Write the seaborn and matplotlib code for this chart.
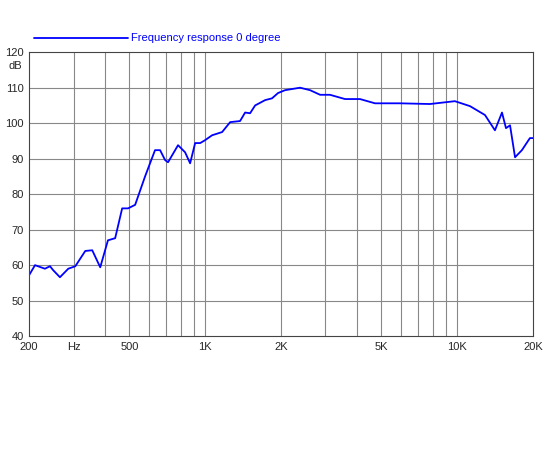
import matplotlib
matplotlib.use("Agg")
import matplotlib.pyplot as plt
import seaborn as sns
import pandas as pd

freq = [200, 211, 231, 242, 249, 265, 286, 305, 334, 356, 383, 411, 439, 468, 494, 527,
        577, 632, 662, 693, 712, 780, 832, 871, 912, 955, 998, 1065, 1167, 1256, 1375,
        1440, 1507, 1578, 1729, 1841, 1946, 2075, 2379, 2608, 2858, 3128, 3588, 4115,
        4721, 5930, 7800, 9800, 11250, 12900, 14130, 15070, 15630, 16220, 16980, 18080,
        19450, 20000]
db = [57.2, 60.0, 59.0, 59.7, 58.6, 56.6, 59.0, 59.7, 64.0, 64.2, 59.4, 67.0, 67.6, 76.0,
      76.0, 77.0, 85.0, 92.4, 92.4, 89.6, 89.0, 93.8, 91.8, 88.7, 94.4, 94.4, 95.2, 96.6,
      97.5, 100.3, 100.6, 103.0, 102.8, 105.0, 106.5, 107.0, 108.5, 109.3, 110.0, 109.3,
      108.0, 108.0, 106.8, 106.8, 105.6, 105.6, 105.4, 106.2, 104.8, 102.3, 98.0, 103.0,
      98.6, 99.4, 90.4, 92.4, 95.8, 95.8]
xticks = [200, 300, 500, 1000, 2000, 5000, 10000, 20000]
xlabels = ["200", "Hz", "500", "1K", "2K", "5K", "10K", "20K"]
yticks = [40, 50, 60, 70, 80, 90, 100, 110, 120]

sns.set_theme(style="white")
plt.rcParams['font.family'] = ['Liberation Sans', 'DejaVu Sans']
df = pd.DataFrame({"f": freq, "dB": db})
fig = plt.figure(figsize=(5.5, 4.5), dpi=100)
ax = fig.add_axes([0.053, 0.253, 0.916, 0.631])
ax.set_xscale("log")
grid = [300, 400, 500, 600, 700, 800, 900, 1000, 2000, 3000, 4000, 5000, 6000, 7000,
        8000, 9000, 10000]
for g in grid:
    ax.axvline(g, color="#888888", lw=0.8, zorder=0)
for y in yticks[1:-1]:
    ax.axhline(y, color="#888888", lw=0.8, zorder=0)
sns.lineplot(data=df, x="f", y="dB", ax=ax, color="#0000ff", lw=1.3,
             label="Frequency response 0 degree")
ax.set_xlim(200, 20000)
ax.set_ylim(40, 120)
ax.set_xticks(xticks)
ax.set_xticklabels(xlabels, fontsize=8)
ax.minorticks_off()
ax.set_yticks(yticks)
ax.set_yticklabels([str(v) for v in yticks], fontsize=8)
ax.tick_params(length=0, pad=4)
ax.set_xlabel("")
ax.set_ylabel("")
for s in ax.spines.values():
    s.set_color("#444444")
    s.set_linewidth(0.8)
fig.text(0.015, 0.847, "dB", fontsize=8)
leg = ax.legend(loc="lower left", bbox_to_anchor=(0.0, 1.015), frameon=False,
                fontsize=8, handlelength=8.5, borderaxespad=0, handletextpad=0.3)
for t in leg.get_texts():
    t.set_color("#0000ff")
fig.savefig("out.png", dpi=100, facecolor="white")
